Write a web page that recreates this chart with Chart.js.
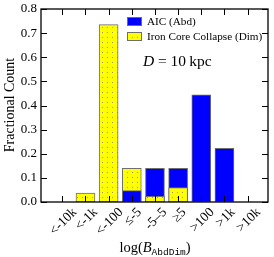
<!DOCTYPE html>
<html>
<head>
<meta charset="utf-8">
<script src="https://cdn.jsdelivr.net/npm/chart.js@4/dist/chart.umd.min.js"></script>
<style>
  html, body { margin: 0; padding: 0; background: #fff; }
  #wrap { width: 274px; height: 257px; }
</style>
</head>
<body>
<div id="wrap"><canvas id="chart" width="274" height="257"></canvas></div>
<script>
// ── Data ──────────────────────────────────────────────────────────────────
const categories  = ['<-10k', '<-1k', '<-100', '\u2264-5', '-5\u20135', '\u22655', '>100', '>1k', '>10k'];
const aicAbd      = [0, 0, 0, 0.047, 0.14, 0.14, 0.444, 0.222, 0];
const ironCoreDim = [0, 0.037, 0.735, 0.14, 0.023, 0.06, 0, 0, 0];
const yTicks      = [0, 0.1, 0.2, 0.3, 0.4, 0.5, 0.6, 0.7, 0.8];

const SERIF = '"Liberation Serif", "DejaVu Serif", serif';
const BLUE = '#0000ff';

const canvas = document.getElementById('chart');
const ctx = canvas.getContext('2d');

// yellow fill with small dots (hatch '.')
function dotPattern() {
    const c = document.createElement('canvas');
    c.width = 5; c.height = 5;
    const g = c.getContext('2d');
    g.fillStyle = '#ffff00';
    g.fillRect(0, 0, 5, 5);
    g.fillStyle = '#9c9c58';
    g.fillRect(2, 2, 1, 1);
    return ctx.createPattern(c, 'repeat');
}
const YELLOW = dotPattern();

// bars overlap; the smaller one of each pair is drawn in front
const backData = [], frontData = [], backColors = [], frontColors = [];
categories.forEach((c, i) => {
    const a = aicAbd[i], b = ironCoreDim[i];
    const hi = Math.max(a, b), lo = Math.min(a, b);
    backData.push({ x: i, y: hi > 0 ? hi : null });
    frontData.push({ x: i, y: lo > 0 ? lo : null });
    backColors.push(a >= b ? BLUE : YELLOW);
    frontColors.push(a >= b ? YELLOW : BLUE);
});

const barStyle = { borderColor: '#6e6e6e', borderWidth: 1, borderSkipped: false, barThickness: 19, grouped: false };

// ── Frame, inward ticks, tick labels, legend, titles ──────────────────────
const decorations = {
    id: 'decorations',
    afterDatasetsDraw(chart) {
        const { ctx } = chart;
        const { left, right, top, bottom } = chart.chartArea;
        const xs = chart.scales.x, ys = chart.scales.y;
        ctx.save();
        ctx.strokeStyle = '#000';
        ctx.lineWidth = 1;
        ctx.beginPath();
        xs.ticks.forEach(t => {
            const px = Math.round(xs.getPixelForValue(t.value)) + 0.5;
            ctx.moveTo(px, bottom); ctx.lineTo(px, bottom - 6);
            ctx.moveTo(px, top);    ctx.lineTo(px, top + 6);
        });
        ys.ticks.forEach(t => {
            const py = Math.round(ys.getPixelForValue(t.value)) + 0.5;
            ctx.moveTo(left, py);  ctx.lineTo(left + 6, py);
            ctx.moveTo(right, py); ctx.lineTo(right - 6, py);
        });
        ctx.stroke();
        ctx.lineWidth = 1.3;
        ctx.strokeRect(left, top, right - left, bottom - top);

        // x tick labels, rotated 45° and centred on the tick
        ctx.fillStyle = '#000';
        ctx.font = '13.5px ' + SERIF;
        ctx.textAlign = 'center';
        ctx.textBaseline = 'middle';
        xs.ticks.forEach(t => {
            const label = categories[t.value];
            const L = ctx.measureText(label).width;
            const half = (L + 12) / (2 * Math.SQRT2);
            ctx.save();
            ctx.translate(xs.getPixelForValue(t.value) + 1, bottom + 4 + half);
            ctx.rotate(-Math.PI / 4);
            ctx.fillText(label, 0, 0);
            ctx.restore();
        });

        // legend
        ctx.lineWidth = 1;
        ctx.strokeStyle = '#6e6e6e';
        ctx.fillStyle = BLUE;
        ctx.fillRect(127.5, 17.5, 14, 8);
        ctx.strokeRect(127.5, 17.5, 14, 8);
        ctx.fillStyle = YELLOW;
        ctx.fillRect(127.5, 32.5, 14, 8);
        ctx.strokeRect(127.5, 32.5, 14, 8);
        ctx.fillStyle = '#000';
        ctx.font = '11.2px ' + SERIF;
        ctx.textBaseline = 'alphabetic';
        ctx.textAlign = 'left';
        ctx.fillText('AIC (Abd)', 147, 25);
        ctx.fillText('Iron Core Collapse (Dim)', 147, 40);

        // D = 10 kpc
        ctx.font = 'italic 15.5px ' + SERIF;
        ctx.fillText('D', 143, 66);
        ctx.font = '15.5px ' + SERIF;
        ctx.fillText('= 10\u2009kpc', 158, 66);

        // y title
        ctx.save();
        ctx.translate(14, 105);
        ctx.rotate(-Math.PI / 2);
        ctx.textAlign = 'center';
        ctx.font = '14px ' + SERIF;
        ctx.fillText('Fractional Count', 0, 0);
        ctx.restore();

        // x title: log(B_AbdDim)
        const parts = [
            { t: 'log(', f: '14.5px ' + SERIF, dy: 0 },
            { t: 'B', f: 'italic 14.5px ' + SERIF, dy: 0 },
            { t: 'AbdDim', f: '9.5px "Liberation Mono", "DejaVu Sans Mono", monospace', dy: 3 },
            { t: ')', f: '14.5px ' + SERIF, dy: 0 }
        ];
        let w = 0;
        parts.forEach(p => { ctx.font = p.f; p.w = ctx.measureText(p.t).width; w += p.w; });
        let x = 155 - w / 2;
        parts.forEach(p => { ctx.font = p.f; ctx.fillText(p.t, x, 252 + p.dy); x += p.w; });
        ctx.restore();
    }
};

new Chart(ctx, {
    type: 'bar',
    data: {
        datasets: [
            { label: 'front', data: frontData, backgroundColor: frontColors, ...barStyle },
            { label: 'back',  data: backData,  backgroundColor: backColors,  ...barStyle }
        ]
    },
    options: {
        responsive: false,
        animation: false,
        layout: { padding: { top: 9, right: 6, left: 0, bottom: 0 } },
        plugins: { legend: { display: false }, tooltip: { enabled: false } },
        scales: {
            x: {
                type: 'linear',
                offset: false,
                min: -0.92,
                max: 8.88,
                grid: { display: false, drawTicks: false, offset: false },
                border: { display: false },
                afterBuildTicks: s => { s.ticks = categories.map((c, i) => ({ value: i })); },
                afterFit: s => { s.height = 55; },
                ticks: { display: false, autoSkip: false }
            },
            y: {
                min: 0,
                max: 0.8,
                grid: { display: false, drawTicks: false },
                border: { display: false },
                afterBuildTicks: s => { s.ticks = yTicks.map(v => ({ value: v })); },
                afterFit: s => { s.width = 41; },
                ticks: {
                    padding: 4,
                    color: '#000',
                    font: { family: SERIF, size: 13, lineHeight: 0.7 },
                    callback: v => v.toFixed(1)
                }
            }
        }
    },
    plugins: [decorations]
});
</script>
</body>
</html>
